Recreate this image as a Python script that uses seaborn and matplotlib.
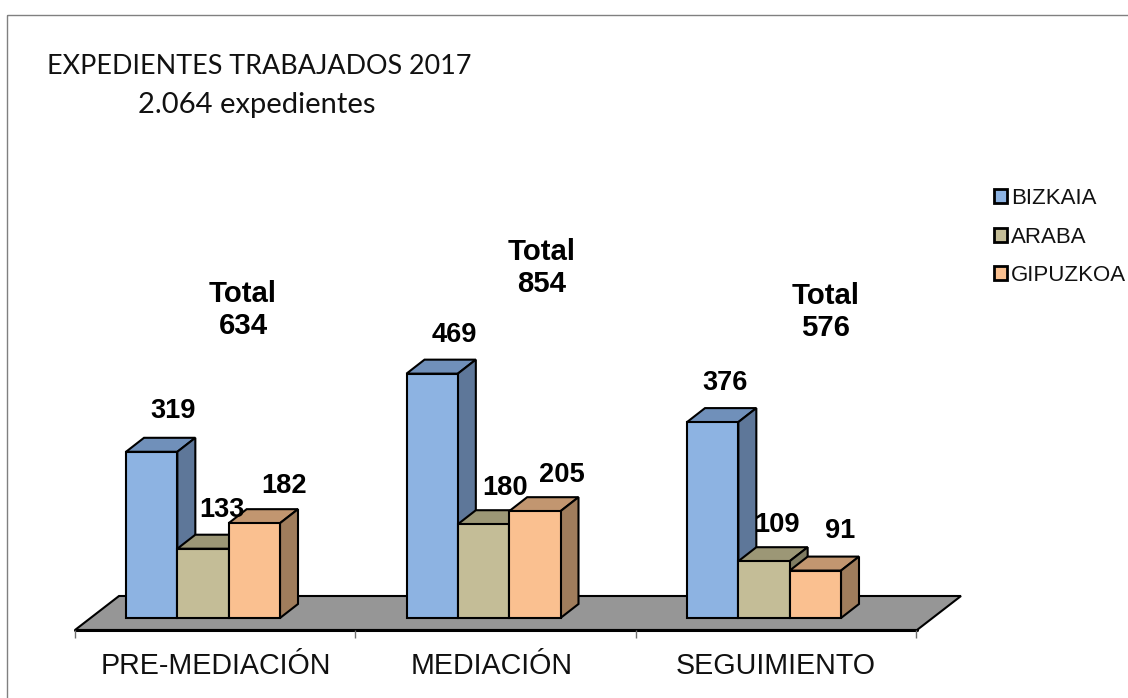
import matplotlib
matplotlib.use('Agg')
import matplotlib.pyplot as plt
from matplotlib.patches import Patch, Polygon, Rectangle
from matplotlib.lines import Line2D
from matplotlib.transforms import Affine2D
import pandas as pd
import seaborn as sns

categories = ['PRE-MEDIACIÓN', 'MEDIACIÓN', 'SEGUIMIENTO']
provinces = ['BIZKAIA', 'ARABA', 'GIPUZKOA']
bizkaia = [319, 469, 376]
araba = [133, 180, 109]
gipuzkoa = [182, 205, 91]
totals = [634, 854, 576]

front_colors = ['#8DB3E2', '#C4BD97', '#FAC090']
top_colors = ['#7090BA', '#9C9776', '#C29670']
side_colors = ['#5E7799', '#807C62', '#A07D5C']

W, H = 1128, 698
PX_PER_UNIT = 0.521
CAT_PX = 280.5
DEPTH_X, DEPTH_Y = 18, 14

sns.set_theme(style='white')
plt.rcParams['font.family'] = ['Liberation Sans', 'DejaVu Sans']

df = pd.DataFrame({
    'category': categories * 3,
    'province': [p for p in provinces for _ in categories],
    'value': bizkaia + araba + gipuzkoa,
})

fig = plt.figure(figsize=(W / 100, H / 100), dpi=100)
ax = fig.add_axes([75 / W, (H - 630) / H, (916 - 75) / W, (630 - 150) / H])
ax.patch.set_alpha(0)

# helper transform: picture pixels, y going down
px = Affine2D().scale(1 / W, -1 / H).translate(0, 1) + fig.transFigure

sns.barplot(data=df, x='category', y='value', hue='province', hue_order=provinces,
            palette=front_colors, width=154 / CAT_PX, gap=0, saturation=1, legend=False,
            edgecolor='black', linewidth=1.5, ax=ax)

ax.set_xlim((75 - 203) / CAT_PX, (916 - 203) / CAT_PX)
ax.set_ylim(-12 / PX_PER_UNIT, 468 / PX_PER_UNIT)

# 3D look: top and side faces hung on each seaborn bar
dx = DEPTH_X / CAT_PX
dy = DEPTH_Y / PX_PER_UNIT
bars = [b for b in ax.patches if b.get_height() > 0]
for i, bar in enumerate(bars):
    k = i // 3
    x0, w, h = bar.get_x(), bar.get_width(), bar.get_height()
    z = 3 + k * 3 + (i % 3) * 0.01
    bar.set_zorder(z + 1)
    ax.add_patch(Polygon([(x0, h), (x0 + dx, h + dy), (x0 + w + dx, h + dy), (x0 + w, h)],
                         closed=True, fc=top_colors[k], ec='black', lw=1.5, zorder=z, clip_on=False))
    ax.add_patch(Polygon([(x0 + w, 0), (x0 + w + dx, dy), (x0 + w + dx, h + dy), (x0 + w, h)],
                         closed=True, fc=side_colors[k], ec='black', lw=1.5, zorder=z, clip_on=False))

# floor
fig.add_artist(Polygon([(75, 630), (917, 630), (961, 596), (119, 596)], closed=True,
                       transform=px, fc='#969696', ec='black', lw=1.5, zorder=-1))
fig.add_artist(Line2D([75, 917], [630, 630], transform=px, color='black', lw=2.2, zorder=-1))
ax.set_zorder(2)

# value labels, nudged as in the picture (pixels)
label_dx = [21, 22, 12, 18.5, 22, 13.5, 30, 27, 24.5]
label_dy = [41, 39, 39, 39, 36, 36, 37, 36, 40]
for bar, ddx, ddy in zip(bars, label_dx, label_dy):
    ax.annotate(f'{bar.get_height():.0f}',
                (bar.get_x() + bar.get_width() / 2, bar.get_height()),
                xytext=(ddx * 0.72, ddy * 0.72), textcoords='offset points',
                ha='center', va='center', fontsize=19.6, fontweight='bold',
                color='black', zorder=30, annotation_clip=False)

total_x = [243, 542, 826]
total_y = [310, 268, 312]
for t, x, y in zip(totals, total_x, total_y):
    fig.text(x, y, f'Total\n{t}', transform=px, ha='center', va='center', fontsize=21.2,
             fontweight='bold', linespacing=1.2, color='black', zorder=30)

# axis: ticks at the category boundaries, labels between them
ax.set_yticks([])
ax.set_xlabel('')
ax.set_ylabel('')
edges = [(p - 203) / CAT_PX for p in (75, 355, 636, 916)]
mids = [(p - 203) / CAT_PX for p in (215.5, 492, 776)]
ax.set_xticks(edges, labels=[''] * 4)
ax.set_xticks(mids, labels=categories, minor=True)
ax.tick_params(axis='x', which='major', length=6, width=1, color='#707070', bottom=True)
ax.tick_params(axis='x', which='minor', length=0, pad=16, labelsize=20.6, labelcolor='#111111')
for name in ['top', 'left', 'right', 'bottom']:
    ax.spines[name].set_visible(False)

# legend
handles = [Patch(fc=c, ec='black', lw=2) for c in front_colors]
fig.legend(handles, provinces, loc='upper left', bbox_to_anchor=(994 / W, 1 - 188 / H),
           frameon=False, fontsize=16, handlelength=0.58, handleheight=0.58, handletextpad=0.17,
           labelspacing=0.79, borderpad=0, borderaxespad=0, labelcolor='#111111')

# titles
fig.text(47, 66, 'EXPEDIENTES TRABAJADOS 2017', transform=px, ha='left', va='center',
         fontsize=19.4, family=['Lato', 'DejaVu Sans'], color='#111111')
fig.text(138, 105, '2.064 expedientes', transform=px, ha='left', va='center',
         fontsize=21, family=['Lato', 'DejaVu Sans'], color='#111111')

# chart frame, runs off the right and bottom of the image
fig.add_artist(Rectangle((7, 15), W, H, transform=px, fc='none', ec='#808080', lw=1, zorder=-2))

fig.savefig('out.png', dpi=100)
